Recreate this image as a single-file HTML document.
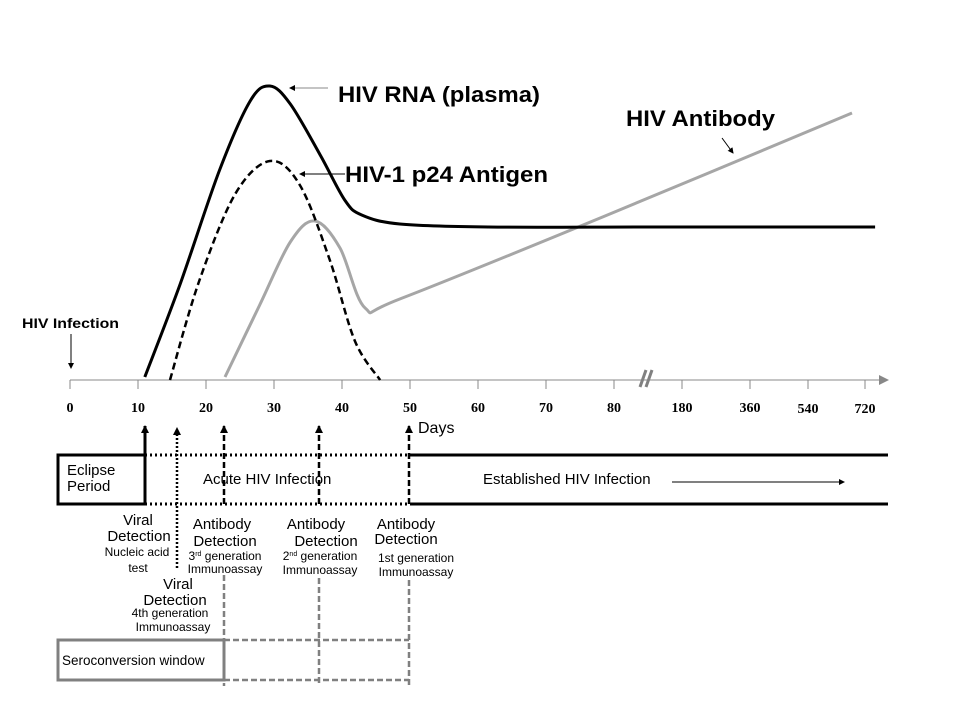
<!DOCTYPE html>
<html><head><meta charset="utf-8"><style>
html,body{margin:0;padding:0;background:#fff;}
svg{display:block;font-family:"Liberation Sans",Arial,sans-serif;}
</style></head><body>
<svg id="chart" width="960" height="720" viewBox="0 0 960 720" xmlns="http://www.w3.org/2000/svg">
<defs>
<marker id="ah" markerWidth="8" markerHeight="8" refX="7" refY="4" orient="auto" markerUnits="userSpaceOnUse"><path d="M0,0 L8,4 L0,8 z" fill="#000"/></marker>
<marker id="ahg" markerWidth="10" markerHeight="10" refX="9" refY="5" orient="auto" markerUnits="userSpaceOnUse"><path d="M0,0 L10,5 L0,10 z" fill="#888"/></marker>
<marker id="ahs" markerWidth="6" markerHeight="6" refX="5" refY="3" orient="auto" markerUnits="userSpaceOnUse"><path d="M0,0 L6,3 L0,6 z" fill="#000"/></marker>
</defs>
<g id="axis"></g>
<g id="series"></g>

<text x="338" y="102" font-size="22" font-weight="bold" textLength="202" lengthAdjust="spacingAndGlyphs">HIV RNA (plasma)</text>
<line x1="328" y1="88" x2="290" y2="88" stroke="#888" stroke-width="1" marker-end="url(#ahs)"/>
<text x="345" y="182" font-size="22" font-weight="bold" textLength="203" lengthAdjust="spacingAndGlyphs">HIV-1 p24 Antigen</text>
<line x1="345" y1="174" x2="300" y2="174" stroke="#000" stroke-width="1" marker-end="url(#ahs)"/>
<text x="626" y="126" font-size="22" font-weight="bold" textLength="149" lengthAdjust="spacingAndGlyphs">HIV Antibody</text>
<line x1="722" y1="138" x2="733" y2="153" stroke="#000" stroke-width="1" marker-end="url(#ahs)"/>
<text x="22" y="328" font-size="14" font-weight="bold" textLength="97" lengthAdjust="spacingAndGlyphs">HIV Infection</text>
<line x1="71" y1="334" x2="71" y2="368" stroke="#000" stroke-width="1" marker-end="url(#ahs)"/>
<text x="418" y="433" font-size="16">Days</text>

<rect x="58" y="455" width="87" height="49" fill="none" stroke="#000" stroke-width="3"/>
<text font-size="15"><tspan x="67" y="475">Eclipse</tspan><tspan x="67" y="491">Period</tspan></text>
<line x1="145" y1="455" x2="410" y2="455" stroke="#000" stroke-width="3" stroke-dasharray="2,3"/>
<line x1="145" y1="504" x2="410" y2="504" stroke="#000" stroke-width="3" stroke-dasharray="2,3"/>
<line x1="410" y1="455" x2="888" y2="455" stroke="#000" stroke-width="3"/>
<line x1="410" y1="504" x2="888" y2="504" stroke="#000" stroke-width="3"/>
<text x="203" y="484" font-size="15">Acute  HIV Infection</text>
<text x="483" y="484" font-size="15">Established HIV Infection</text>
<line x1="672" y1="482" x2="844" y2="482" stroke="#000" stroke-width="1" marker-end="url(#ahs)"/>

<line x1="145" y1="504" x2="145" y2="426" stroke="#000" stroke-width="3" marker-end="url(#ah)"/>
<line x1="177" y1="568" x2="177" y2="428" stroke="#000" stroke-width="2.5" stroke-dasharray="2,2" marker-end="url(#ah)"/>
<line x1="224" y1="504" x2="224" y2="426" stroke="#000" stroke-width="2.5" stroke-dasharray="6,3" marker-end="url(#ah)"/>
<line x1="319" y1="504" x2="319" y2="426" stroke="#000" stroke-width="2.5" stroke-dasharray="6,3" marker-end="url(#ah)"/>
<line x1="409" y1="504" x2="409" y2="426" stroke="#000" stroke-width="2.5" stroke-dasharray="6,3" marker-end="url(#ah)"/>
<line x1="224" y1="575" x2="224" y2="686" stroke="#808080" stroke-width="2.5" stroke-dasharray="6,3"/>
<line x1="319" y1="578" x2="319" y2="686" stroke="#808080" stroke-width="2.5" stroke-dasharray="6,3"/>
<line x1="409" y1="580" x2="409" y2="686" stroke="#808080" stroke-width="2.5" stroke-dasharray="6,3"/>

<g font-size="15" text-anchor="middle">
<text><tspan x="138" y="525">Viral</tspan><tspan x="139" y="541">Detection</tspan><tspan x="137" y="556" font-size="12">Nucleic acid</tspan><tspan x="138" y="572" font-size="12">test</tspan></text>
<text><tspan x="178" y="589">Viral</tspan><tspan x="175" y="605">Detection</tspan><tspan x="170" y="617" font-size="12">4th generation</tspan><tspan x="173" y="631" font-size="12">Immunoassay</tspan></text>
<text><tspan x="222" y="529">Antibody</tspan><tspan x="225" y="546">Detection</tspan><tspan x="225" y="560" font-size="12">3<tspan font-size="7" dy="-4">rd</tspan><tspan dy="4"> generation</tspan></tspan><tspan x="225" y="573" font-size="12">Immunoassay</tspan></text>
<text><tspan x="316" y="529">Antibody</tspan><tspan x="326" y="546">Detection</tspan><tspan x="320" y="560" font-size="12">2<tspan font-size="7" dy="-4">nd</tspan><tspan dy="4"> generation</tspan></tspan><tspan x="320" y="574" font-size="12">Immunoassay</tspan></text>
<text><tspan x="406" y="529">Antibody</tspan><tspan x="406" y="544">Detection</tspan><tspan x="416" y="562" font-size="12">1st generation</tspan><tspan x="416" y="576" font-size="12">Immunoassay</tspan></text>
</g>

<rect x="58" y="640" width="166" height="40" fill="none" stroke="#808080" stroke-width="3"/>
<text x="62" y="665" font-size="13.5">Seroconversion window</text>
<line x1="224" y1="640" x2="409" y2="640" stroke="#808080" stroke-width="2.5" stroke-dasharray="6,3"/>
<line x1="224" y1="680" x2="409" y2="680" stroke="#808080" stroke-width="2.5" stroke-dasharray="6,3"/>
</svg>
<script>
// ---- data ----
const tickDays = [0,10,20,30,40,50,60,70,80,180,360,540,720];
const tickLabels = ["0","10","20","30","40","50","60","70","80","180","360","540","720"];
const rnaDays   = [11, 16.2, 22, 26.5, 29.4, 32.4, 36.8, 40.4, 42.9, 48.5, 61.5, 120, 450, 752];
const rnaValues = [1, 32, 70, 93, 98, 92, 75, 60, 55, 52, 51, 51, 51, 51];
const p24Days   = [14.7, 19, 24.3, 29.4, 33.8, 38.2, 41.9, 45.6];
const p24Values = [0, 33, 62, 73, 65, 40, 13, 0];
const abDays    = [22.8, 27.9, 32.4, 36, 39.7, 43.4, 48.5, 78.5, 679];
const abValues  = [1, 25, 46, 53, 44, 24, 27, 54.5, 89];

// ---- scales ----
const X0 = 70, STEP = 68;
const tickX = tickDays.map((d,i)=> i<11 ? X0+STEP*i : (i===11 ? 808 : 865));
function xScale(d){
  for(let i=0;i<tickDays.length-1;i++){
    if(d<=tickDays[i+1] || i===tickDays.length-2){
      const t=(d-tickDays[i])/(tickDays[i+1]-tickDays[i]);
      return tickX[i]+t*(tickX[i+1]-tickX[i]);
    }
  }
}
const Y0 = 380;
function yScale(v){ return Y0 - v*3; }

const NS="http://www.w3.org/2000/svg";
const axis=document.getElementById('axis');
const series=document.getElementById('series');
function mk(tag,attrs,parent){const e=document.createElementNS(NS,tag);for(const k in attrs)e.setAttribute(k,attrs[k]);parent.appendChild(e);return e;}

let ax=mk('line',{x1:70,y1:Y0,x2:888,y2:Y0,stroke:'#888','stroke-width':1,'marker-end':'url(#ahg)'},axis);


tickDays.forEach((d,i)=>{
  const x=xScale(d);
  const t=mk('line',{x1:x,y1:Y0,x2:x,y2:Y0+9,stroke:'#888','stroke-width':1},axis);
  
  
  const l=mk('text',{x:x,y:(i>=11?413:412),'text-anchor':'middle','font-size':14,'font-weight':'bold','font-family':'Liberation Serif, serif'},axis);
  l.textContent=tickLabels[i];
  
  
});
[0,6].forEach(o=>{
  const b=mk('line',{x1:640+o,y1:387,x2:646+o,y2:370,stroke:'#808080','stroke-width':3},axis);
  
  
});

function smoothPath(days,vals){
  const p=days.map((d,i)=>[xScale(d),yScale(vals[i])]);
  let s='M'+p[0][0].toFixed(1)+','+p[0][1].toFixed(1);
  for(let i=0;i<p.length-1;i++){
    const p0=p[i-1]||p[i],p1=p[i],p2=p[i+1],p3=p[i+2]||p2;
    const c1=[p1[0]+(p2[0]-p0[0])/6,p1[1]+(p2[1]-p0[1])/6];
    const c2=[p2[0]-(p3[0]-p1[0])/6,p2[1]-(p3[1]-p1[1])/6];
    s+=' C'+c1.map(n=>n.toFixed(1)).join(',')+' '+c2.map(n=>n.toFixed(1)).join(',')+' '+p2.map(n=>n.toFixed(1)).join(',');
  }
  return s;
}
let ab=mk('path',{d:smoothPath(abDays,abValues),fill:'none',stroke:'#a6a6a6','stroke-width':3},series);


let rna=mk('path',{d:smoothPath(rnaDays,rnaValues),fill:'none',stroke:'#000','stroke-width':3},series);


let p24=mk('path',{d:smoothPath(p24Days,p24Values),fill:'none',stroke:'#000','stroke-width':2.5,'stroke-dasharray':'7,4'},series);


</script>
</body></html>
